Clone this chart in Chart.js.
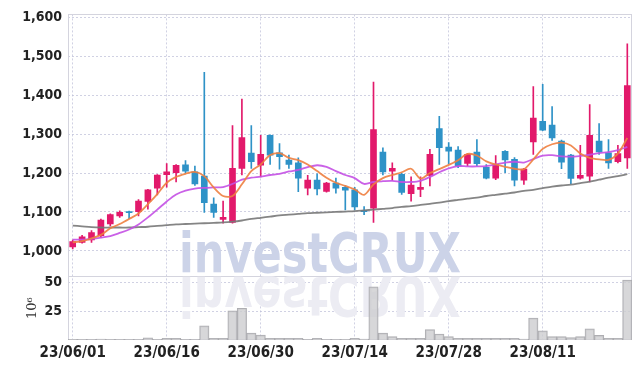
<!DOCTYPE html>
<html>
<head>
<meta charset="utf-8">
<script src="https://cdn.jsdelivr.net/npm/chart.js@4.4.0/dist/chart.umd.min.js"></script>
<style>
  html, body { margin: 0; padding: 0; background: #fff; }
  #wrap { width: 642px; height: 369px; }
</style>
</head>
<body>
<div id="wrap"><canvas id="myChart" width="642" height="369"></canvas></div>
<script>
const datas = [
  '23/06/01','23/06/02','23/06/05','23/06/07','23/06/08','23/06/09','23/06/12','23/06/13','23/06/14','23/06/15',
  '23/06/16','23/06/19','23/06/20','23/06/21','23/06/22','23/06/23','23/06/26','23/06/27','23/06/28','23/06/29',
  '23/06/30','23/07/03','23/07/04','23/07/05','23/07/06','23/07/07','23/07/10','23/07/11','23/07/12','23/07/13',
  '23/07/14','23/07/17','23/07/18','23/07/19','23/07/20','23/07/21','23/07/24','23/07/25','23/07/26','23/07/27',
  '23/07/28','23/07/31','23/08/01','23/08/02','23/08/03','23/08/04','23/08/07','23/08/08','23/08/09','23/08/10',
  '23/08/11','23/08/14','23/08/16','23/08/17','23/08/18','23/08/21','23/08/22','23/08/23','23/08/24','23/08/25'
];

const aberturas = [
  1010,1022,1028,1039,1069,1090,1101,1101,1127,1161,
  1196,1201,1221,1203,1192,1120,1081,1073,1212,1251,
  1220,1297,1252,1233,1226,1161,1182,1153,1174,1163,
  1157,1104,1110,1254,1205,1197,1147,1158,1194,1314,
  1267,1259,1225,1254,1215,1187,1256,1235,1182,1280,
  1333,1323,1282,1246,1187,1192,1282,1252,1229,1239
];
const maximas = [
  1028,1040,1052,1082,1095,1103,1102,1132,1158,1196,
  1224,1222,1232,1218,1459,1136,1128,1322,1390,1322,
  1297,1298,1276,1246,1239,1194,1198,1176,1187,1167,
  1163,1114,1434,1265,1226,1200,1190,1190,1261,1346,
  1278,1268,1250,1286,1222,1245,1258,1240,1212,1422,
  1428,1371,1285,1248,1271,1376,1327,1286,1271,1532
];
const minimas = [
  1005,1020,1022,1035,1064,1086,1083,1090,1107,1144,
  1164,1177,1200,1168,1099,1086,1071,1071,1195,1212,
  1190,1222,1210,1212,1152,1144,1144,1151,1148,1105,
  1105,1093,1073,1195,1181,1145,1128,1139,1167,1222,
  1224,1214,1218,1218,1185,1183,1201,1167,1171,1248,
  1309,1284,1211,1173,1184,1177,1248,1212,1226,1212
];
const fechamentos = [
  1024,1036,1047,1079,1093,1099,1098,1128,1157,1195,
  1203,1220,1205,1172,1124,1099,1086,1212,1291,1229,
  1248,1246,1242,1222,1187,1182,1159,1174,1161,1156,
  1113,1101,1312,1203,1212,1150,1169,1163,1248,1265,
  1256,1218,1248,1224,1187,1222,1234,1182,1210,1341,
  1310,1290,1228,1186,1194,1297,1254,1226,1250,1425
];

const media5 = [
  1022,1025,1032,1041,1058,1069,1082,1096,1120,1146,
  1175,1190,1198,1203,1192,1163,1141,1141,1171,1205,
  1222,1246,1251,1239,1233,1222,1205,1188,1175,1167,
  1158,1144,1171,1187,1195,1202,1211,1186,1200,1210,
  1221,1233,1249,1245,1230,1222,1216,1211,1210,1235,
  1262,1274,1278,1271,1250,1239,1235,1234,1250,1290
];
const media20 = [
  1029,1029,1031,1034,1038,1046,1055,1068,1086,1106,
  1127,1145,1155,1160,1162,1163,1164,1172,1183,1188,
  1191,1195,1198,1204,1208,1215,1220,1216,1205,1195,
  1187,1172,1177,1179,1180,1177,1177,1180,1190,1202,
  1212,1218,1217,1217,1218,1222,1227,1229,1227,1236,
  1245,1246,1243,1242,1244,1247,1251,1254,1259,1267
];
const media120 = [
  1065,1063,1061,1060,1060,1060,1060,1061,1062,1064,
  1066,1068,1069,1070,1071,1072,1073,1075,1078,1082,
  1085,1088,1091,1093,1095,1097,1098,1099,1100,1101,
  1102,1104,1106,1108,1110,1113,1115,1118,1121,1124,
  1128,1131,1134,1137,1141,1144,1147,1150,1154,1157,
  1161,1165,1168,1170,1174,1178,1183,1188,1192,1197
];

// volume em milhoes (10^6)
const volumes = [
  0.5,0.5,0.5,0.8,0.5,0.5,0.5,0.5,1.8,0.5,
  1.5,1.5,0.5,0.5,12.3,1.5,1.5,25.3,27.6,6,
  4.3,1.5,1.5,1.5,1.5,0.5,1.5,0.5,0.5,0.5,
  1.5,0.8,46.2,6,3,1.5,1.5,1.5,9,5.2,
  3,1.5,1.5,1.5,1.5,1.5,1.5,1.5,0.8,19,
  8,3,3,2,3,9.7,4,1.5,1.5,52
];

const ticksPreco = [1000, 1100, 1200, 1300, 1400, 1500, 1600];
const ticksVolume = [25, 50];

const corAlta = '#e2196b';
const corBaixa = '#2e92c7';
const corGrade = 'rgba(188,190,215,0.7)';
const fonteEixo = "'Liberation Sans Narrow', 'DejaVu Sans Condensed', sans-serif";

const coresVela = aberturas.map((o, i) => fechamentos[i] >= o ? corAlta : corBaixa);

// marca d'agua com reflexo
const marcaDagua = {
  id: 'marcaDagua',
  beforeDatasetsDraw(chart) {
    const ctx = chart.ctx;
    const vol = chart.scales.vol;
    const texto = 'investCRUX';
    ctx.save();
    ctx.font = 'bold 55px "DejaVu Sans"';
    ctx.textBaseline = 'alphabetic';
    const sx = 282 / ctx.measureText(texto).width;

    ctx.save();
    ctx.translate(179, 272);
    ctx.scale(sx, 1);
    ctx.fillStyle = '#ccd3e8';
    ctx.fillText(texto, 0, 0);
    ctx.restore();

    ctx.save();
    ctx.beginPath();
    ctx.rect(vol.left, vol.top, chart.chartArea.right - vol.left, vol.height);
    ctx.clip();
    ctx.translate(179, 276.5);
    ctx.scale(sx, -1);
    ctx.fillStyle = '#ececf3';
    ctx.fillText(texto, 0, 0);
    ctx.restore();
    ctx.restore();
  }
};

// molduras dos dois paineis
const molduras = {
  id: 'molduras',
  beforeDatasetsDraw(chart) {
    const ctx = chart.ctx;
    const area = chart.chartArea;
    const y = chart.scales.y;
    const vol = chart.scales.vol;
    ctx.save();
    ctx.strokeStyle = '#d4d4de';
    ctx.lineWidth = 1;
    ctx.strokeRect(Math.round(area.left) + 0.5, Math.round(y.top) + 0.5, Math.round(area.width) - 1, Math.round(y.height));
    ctx.strokeRect(Math.round(area.left) + 0.5, Math.round(vol.top) + 0.5, Math.round(area.width) - 1, Math.round(vol.height) - 1);
    ctx.restore();
  }
};

const ctx = document.getElementById('myChart').getContext('2d');
const grafico = new Chart(ctx, {
  type: 'bar',
  data: {
    labels: datas,
    datasets: [
      {
        type: 'line', label: 'MA5', data: media5, yAxisID: 'y',
        borderColor: 'rgba(238,128,64,0.9)', borderWidth: 1.8, pointRadius: 0, tension: 0.3, order: 0
      },
      {
        type: 'line', label: 'MA20', data: media20, yAxisID: 'y',
        borderColor: 'rgba(196,80,228,0.9)', borderWidth: 1.8, pointRadius: 0, tension: 0.3, order: 0
      },
      {
        type: 'line', label: 'MA120', data: media120, yAxisID: 'y',
        borderColor: 'rgba(120,120,120,0.9)', borderWidth: 1.8, pointRadius: 0, tension: 0.3, order: 0
      },
      {
        label: 'Corpo', yAxisID: 'y', grouped: false, order: 1,
        data: aberturas.map((o, i) => [o, fechamentos[i]]),
        backgroundColor: coresVela, barThickness: 6, borderWidth: 0, borderSkipped: false
      },
      {
        label: 'Pavio', yAxisID: 'y', grouped: false, order: 2,
        data: minimas.map((l, i) => [l, maximas[i]]),
        backgroundColor: coresVela, barThickness: 1, borderWidth: 0, borderSkipped: false
      },
      {
        label: 'Volume', yAxisID: 'vol', grouped: false, order: 3,
        data: volumes,
        backgroundColor: 'rgba(205,205,208,0.8)', borderColor: 'rgba(165,165,170,0.9)', borderWidth: 1,
        barPercentage: 1, categoryPercentage: 1
      }
    ]
  },
  options: {
    responsive: false,
    animation: false,
    layout: { padding: { top: 12, right: 10, left: 0, bottom: 0 } },
    plugins: { legend: { display: false }, tooltip: { enabled: false } },
    scales: {
      x: {
        offset: true,
        grid: {
          offset: false, drawTicks: false,
          color: c => (c.index % 10 === 0 ? corGrade : 'transparent')
        },
        border: { display: false, dash: [2, 2] },
        ticks: {
          autoSkip: false, maxRotation: 0, minRotation: 0, padding: 4, color: '#222',
          font: { family: fonteEixo, size: 15, weight: 'bold' },
          callback: function (val, idx) { return idx % 10 === 0 ? this.getLabelForValue(val) : ''; }
        },
        afterFit: s => { s.height = 29; }
      },
      vol: {
        position: 'left', stack: 'paineis', stackWeight: 1, weight: 1,
        min: 0, max: 55.5,
        afterBuildTicks: s => { s.ticks = ticksVolume.map(v => ({ value: v })); },
        grid: { color: corGrade, drawTicks: false },
        border: { display: false, dash: [2, 2] },
        ticks: { padding: 6, color: '#222', font: { family: fonteEixo, size: 14, weight: 'bold' } },
        title: {
          display: true, text: '10⁶', color: '#333',
          font: { family: "'DejaVu Serif', serif", size: 13 },
          padding: { top: 25, bottom: 0 }
        },
        afterFit: s => { s.width = 68; }
      },
      y: {
        position: 'left', stack: 'paineis', stackWeight: 4.1, weight: 2,
        min: 935, max: 1607.7,
        afterBuildTicks: s => { s.ticks = ticksPreco.map(v => ({ value: v })); },
        grid: { color: corGrade, drawTicks: false },
        border: { display: false, dash: [2, 2] },
        ticks: {
          padding: 6, color: '#222', font: { family: fonteEixo, size: 14, weight: 'bold' },
          callback: v => v.toLocaleString('en-US')
        },
        afterFit: s => { s.width = 68; }
      }
    }
  },
  plugins: [molduras, marcaDagua]
});
</script>
</body>
</html>
